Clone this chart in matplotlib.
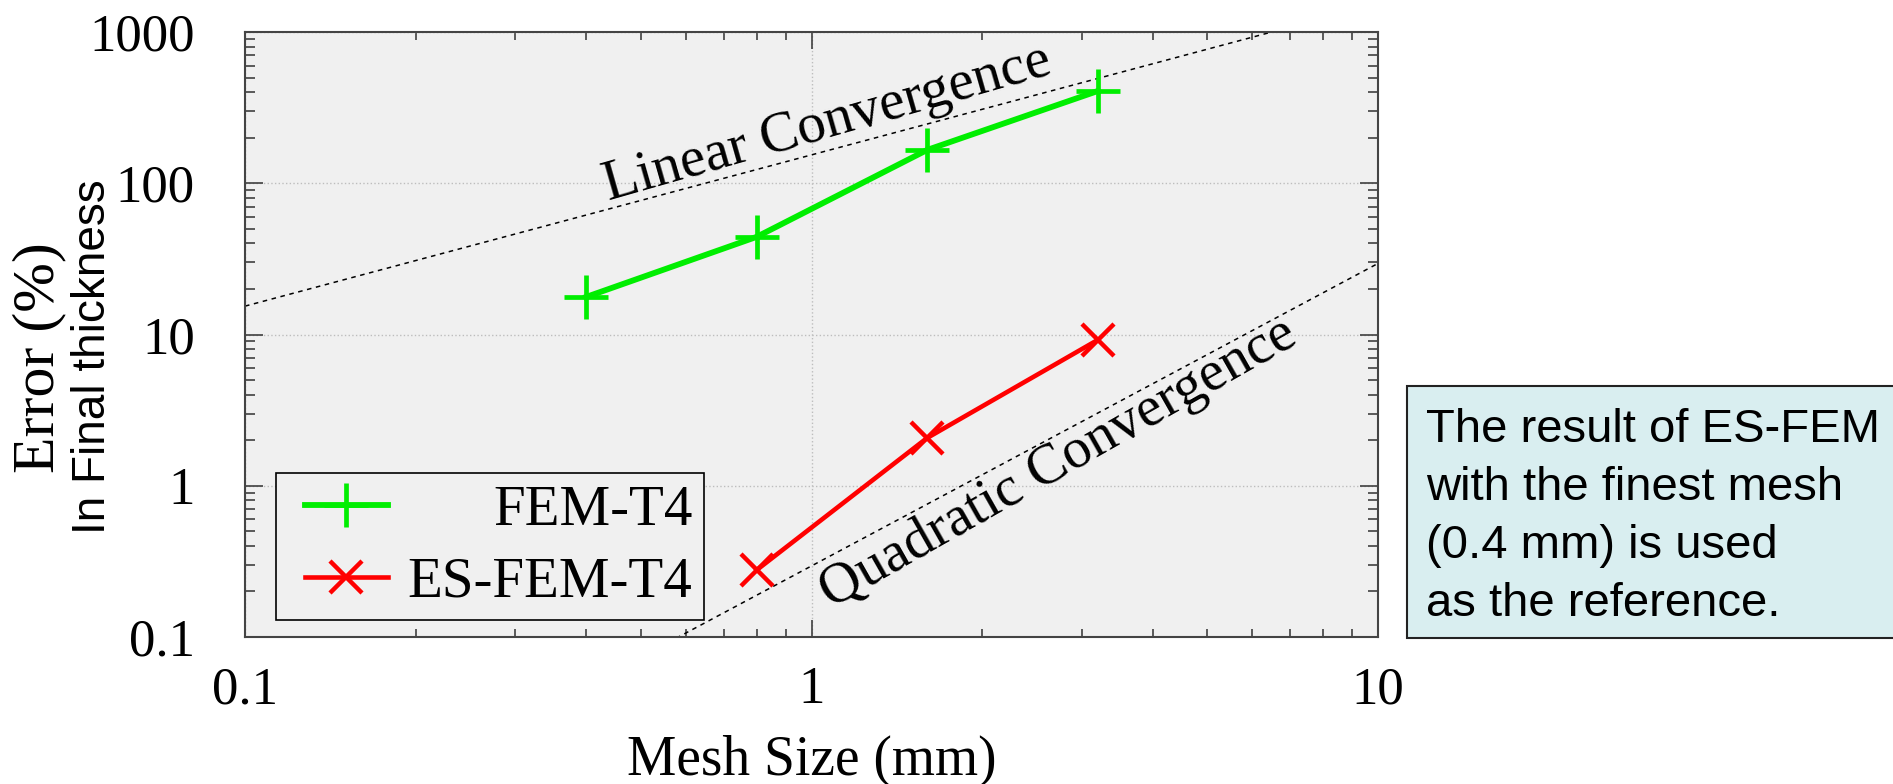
import numpy as np
import matplotlib.pyplot as plt
from matplotlib.patches import Rectangle
from matplotlib.lines import Line2D
from matplotlib.legend_handler import HandlerLine2D

# data
mesh_fem = [0.4, 0.8, 1.6, 3.2]
err_fem = [17.7, 44.2, 166, 407]
mesh_es = [0.8, 1.6, 3.2]
err_es = [0.277, 2.07, 9.2]

# guide lines (straight in log-log, two end points each)
lin_x = [0.1, 10]
lin_y = [15.4, 1540]
quad_x = [0.1, 10]
quad_y = [0.00295, 29.5]

x_ticks = [0.1, 1, 10]
x_tick_labels = ['0.1', '1', '10']
y_ticks = [0.1, 1, 10, 100, 1000]
y_tick_labels = ['0.1', '1', '10', '100', '1000']

note_lines = ['The result of ES-FEM', 'with the finest mesh',
              '(0.4 mm) is used', 'as the reference.']

serif = 'Liberation Serif'
sans = 'Liberation Sans'
W, H = 1893, 784

fig = plt.figure(figsize=(W / 100, H / 100), dpi=100)
ax = fig.add_axes([245 / W, 1 - 637 / H, (1378 - 245) / W, (637 - 32) / H])
ax.set_facecolor('#f0f0f0')
ax.set_xscale('log')
ax.set_yscale('log')
ax.set_xlim(0.1, 10)
ax.set_ylim(0.1, 1000)
ax.set_axisbelow(True)
ax.grid(which='major', ls=':', color='#bdbdbd', lw=1)

ax.plot(lin_x, lin_y, ls=(0, (3, 3)), color='black', lw=1.1)
ax.plot(quad_x, quad_y, ls=(0, (3, 3)), color='black', lw=1.1)

ax.plot(mesh_fem, err_fem, color='#00ee00', lw=4.2, marker='+',
        markersize=32, mew=3.4, label='FEM-T4')
ax.plot(mesh_es, err_es, color='#ff0000', lw=3.3, marker='x',
        markersize=23, mew=3.2, label='ES-FEM-T4')

# labels along the guide lines
def line_angle(xs, ys):
    p = ax.transData.transform(np.column_stack([xs, ys]))
    return np.degrees(np.arctan2(p[1, 1] - p[0, 1], p[1, 0] - p[0, 0]))

ax.text(1.067, 250, 'Linear Convergence', family=serif, fontsize=41,
        rotation=line_angle(lin_x, lin_y) + 1, ha='center', va='center',
        rotation_mode='anchor')
ax.text(2.73, 1.40, 'Quadratic Convergence', family=serif, fontsize=41,
        rotation=line_angle(quad_x, quad_y) + 1.5, ha='center', va='center',
        rotation_mode='anchor')

ax.set_xticks(x_ticks)
ax.set_xticklabels(x_tick_labels)
ax.set_yticks(y_ticks)
ax.set_yticklabels(y_tick_labels)
for lab in ax.get_xticklabels() + ax.get_yticklabels():
    lab.set_family(serif)
    lab.set_fontsize(38)
ax.tick_params(which='both', direction='in', top=True, right=True,
               color='#404040', width=1.2)
ax.tick_params(axis='y', which='major', length=13, pad=36)
ax.tick_params(axis='y', which='minor', length=7)
ax.tick_params(axis='x', which='major', length=12, pad=21)
ax.tick_params(axis='x', which='minor', length=6)
for sp in ax.spines.values():
    sp.set_color('#444444')
    sp.set_linewidth(1.5)

ax.set_xlabel('Mesh Size (mm)', family=serif, fontsize=40)
ax.xaxis.label.set_va('baseline')
ax.xaxis.set_label_coords(0.5, (637 - 775) / (637 - 32))

fig.text(39 / W, 1 - 358 / H, 'Error (%)', family=serif, fontsize=43,
         rotation=90, ha='center', va='center')
fig.text(93 / W, 1 - 357 / H, 'In Final thickness', family=sans, fontsize=33,
         rotation=90, ha='center', va='center')

# legend: handles shifted right a little (xpad), text right-aligned
leg = ax.legend(loc='lower left', bbox_to_anchor=(0.027, 0.028),
                borderaxespad=0, prop={'family': serif, 'size': 41},
                fancybox=False, edgecolor='black', facecolor='#f0f0f0',
                framealpha=1, handlelength=1.77, handletextpad=0.35,
                borderpad=0.2, labelspacing=0.35, numpoints=1,
                handler_map={Line2D: HandlerLine2D(xpad=0.32)})
leg.get_frame().set_linewidth(1.2)

fig.canvas.draw()
widths = [t.get_window_extent().width for t in leg.get_texts()]
for t, w in zip(leg.get_texts(), widths):
    t.set_position((max(widths) - w, 0))

# note box at the right
fig.add_artist(Rectangle((1407 / W, 1 - 638 / H), (W + 10 - 1407) / W,
                         (638 - 386) / H, transform=fig.transFigure,
                         facecolor='#d9eef0', edgecolor='#222222', lw=1.5,
                         clip_on=False))
for i, line in enumerate(note_lines):
    fig.text(1426 / W, 1 - (442 + i * 58) / H, line, family=sans,
             fontsize=34, ha='left', va='baseline')

fig.savefig('out.png', dpi=100)
